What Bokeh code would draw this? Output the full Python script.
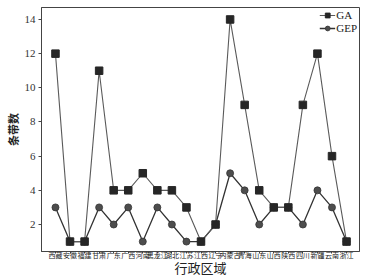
from bokeh.plotting import figure
from bokeh.models import Range1d, FixedTicker, Legend, LegendItem
from bokeh.embed import file_html
from bokeh.resources import INLINE

regions = ["西藏", "安徽", "福建", "甘肃", "广东", "广西", "河南", "黑龙江", "湖北", "江苏", "江西",
           "辽宁", "内蒙古", "青海", "山东", "山西", "陕西", "四川", "新疆", "云南", "浙江"]
ga = [12, 1, 1, 11, 4, 4, 5, 4, 4, 3, 1, 2, 14, 9, 4, 3, 3, 9, 12, 6, 1]
gep = [3, 1, 1, 3, 2, 3, 1, 3, 2, 1, 1, 2, 5, 4, 2, 3, 3, 2, 4, 3, 1]
y_ticks = [2, 4, 6, 8, 10, 12, 14]
x_label = "行政区域"
y_label = "条带数"

xs = list(range(len(regions)))

p = figure(width=375, height=280, output_backend="svg", toolbar_location=None,
           x_range=Range1d(-0.96, 20.89), y_range=Range1d(0.42, 14.70),
           min_border_left=41, min_border_right=16, min_border_top=7, min_border_bottom=29)

p.xgrid.visible = False
p.ygrid.visible = False
p.outline_line_color = "#444444"
p.outline_line_width = 1
p.background_fill_color = "white"
p.border_fill_color = "white"

cjk = "Noto Sans CJK SC"
serif = "Liberation Serif"

# x axis
xa = p.xaxis[0]
xa.ticker = FixedTicker(ticks=xs)
xa.major_label_overrides = {i: r for i, r in enumerate(regions)}
xa.major_label_text_font = cjk
xa.major_label_text_font_size = "7px"
xa.major_label_text_color = "#222222"
xa.major_tick_out = 2
xa.major_tick_in = 0
xa.minor_tick_out = 0
xa.minor_tick_in = 0
xa.major_label_standoff = -4
xa.axis_line_color = "#444444"
xa.major_tick_line_color = "#444444"
xa.axis_label = x_label
xa.axis_label_text_font = cjk
xa.axis_label_text_font_size = "13px"
xa.axis_label_text_font_style = "normal"
xa.axis_label_text_color = "#222222"
xa.axis_label_standoff = -5

# y axis
ya = p.yaxis[0]
ya.ticker = FixedTicker(ticks=y_ticks)
ya.major_label_text_font = serif
ya.major_label_text_font_size = "11px"
ya.major_label_text_color = "#333333"
ya.major_tick_out = 3
ya.major_tick_in = 0
ya.minor_tick_out = 0
ya.minor_tick_in = 0
ya.major_label_standoff = 3
ya.axis_line_color = "#444444"
ya.major_tick_line_color = "#444444"
ya.axis_label = y_label
ya.axis_label_text_font = cjk
ya.axis_label_text_font_size = "11px"
ya.axis_label_text_font_style = "bold"
ya.axis_label_text_color = "#222222"
ya.axis_label_standoff = 1

# series
gep_line = p.line(xs, gep, line_color="#333333", line_width=1.3)
gep_sc = p.scatter(xs, gep, marker="circle", size=7, fill_color="#4d4d4d", line_color="#333333", line_width=0.8)
ga_line = p.line(xs, ga, line_color="#5a5a5a", line_width=1.1)
ga_sc = p.scatter(xs, ga, marker="square", size=7.5, fill_color="#262626", line_color="#262626")

legend = Legend(items=[LegendItem(label="GA", renderers=[ga_line, ga_sc]),
                       LegendItem(label="GEP", renderers=[gep_line, gep_sc])],
                location="top_right", margin=2, padding=0, spacing=1,
                glyph_width=16, glyph_height=12, label_height=12, label_standoff=1,
                label_text_font=serif, label_text_font_size="11px", label_text_color="#222222",
                border_line_color=None, background_fill_alpha=0)
p.add_layout(legend)

open("out.html", "w").write(file_html(p, INLINE))
